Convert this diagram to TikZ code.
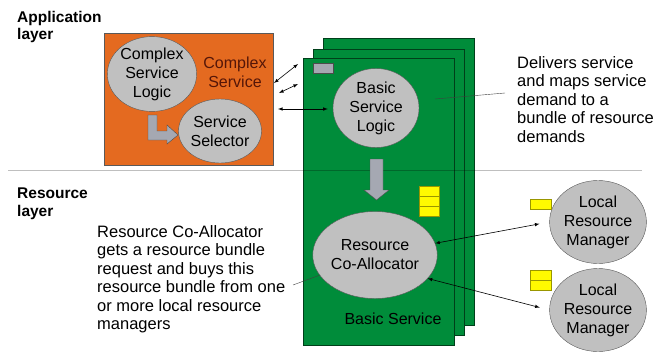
\documentclass[tikz,border=0pt]{standalone}
\usepackage{fontspec}
\setmainfont{Liberation Sans}
\usepackage{tikz}
\usetikzlibrary{arrows}
\usetikzlibrary{shapes.geometric}

\definecolor{svcorange}{RGB}{228,106,32}
\definecolor{svcgreen}{RGB}{0,140,58}
\definecolor{svcbrown}{RGB}{85,22,8}
\definecolor{ellgray}{RGB}{192,192,192}
\definecolor{boxgray}{RGB}{165,168,178}
\definecolor{resyellow}{RGB}{255,250,0}

\begin{document}
\begin{tikzpicture}[x=1pt, y=-1pt, every node/.style={font=\fontsize{16}{19}\selectfont, inner sep=0pt, align=center},
		logic/.style={ellipse, draw=gray!70!black, fill=ellgray},
		layerlabel/.style={anchor=north west, align=left, font=\fontsize{15.5}{17.5}\selectfont\bfseries},
		note/.style={anchor=north west, align=left, font=\fontsize{16.5}{18.5}\selectfont},
		servicecard/.style={draw=black!55!svcgreen, fill=svcgreen},
		resbox/.style={draw=black!40!resyellow, fill=resyellow},
		link/.style={black, latex-latex, semithick}]
	\useasboundingbox (0,0) rectangle (663,351);

	% layer labels
	\node [layerlabel] (applabel) at (17,11) {Application\\layer};
	\node [layerlabel] (reslabel) at (17,188) {Resource\\layer};

	% complex service
	\draw [fill=svcorange, draw=gray!70!black] (104,33) rectangle (273,165);
	\node [logic, minimum width=89pt, minimum height=68pt] (csl) at (152,74) {Complex\\Service\\Logic};
	\node [svcbrown] (cslabel) at (235,72) {Complex\\Service};
	\node [logic, minimum width=76pt, minimum height=64pt] (sel) at (220,131) {Service\\Selector};
	\draw [fill=boxgray, draw=gray!60!black] (148,115) -- (157,115) -- (157,131) -- (167,131) -- (167,125) -- (178,135) -- (167,144) -- (167,140) -- (148,140) -- cycle;

	% basic service cards
	\draw [servicecard] (323,38) rectangle (474,325);
	\draw [servicecard] (313,49) rectangle (464,335);
	\draw [servicecard] (303,58) rectangle (454,345);
	\draw [black, opacity=0.25, thick] (8,170) -- (642,170);
	\draw [fill=boxgray, draw=gray!60!black] (313,63) rectangle (333,73);
	\node [logic, minimum width=86pt, minimum height=79pt] (bsl) at (376,108) {Basic\\Service\\Logic};
	\draw [fill=boxgray, draw=gray!60!black] (370,159) -- (383,159) -- (383,190) -- (389,190) -- (376.5,200) -- (364,190) -- (370,190) -- cycle;
	\foreach \y in {186,196,206}
		\draw [resbox] (419,\y) rectangle (439,\y+9.7);
	\node [logic, minimum width=102pt, minimum height=87pt] (rca) at (375,255) {Resource\\Co-Allocator};
	\node (bslabel) at (393,319) {Basic Service};

	% local resource managers
	\node [logic, minimum width=85pt, minimum height=83pt] (lrm1) at (598,222) {Local\\Resource\\Manager};
	\node [logic, minimum width=85pt, minimum height=83pt] (lrm2) at (598,310) {Local\\Resource\\Manager};
	\draw [resbox] (530,199) rectangle (551,209);
	\draw [resbox] (530,270) rectangle (551,280);
	\draw [resbox] (530,280) rectangle (551,290);

	% links
	\coordinate (cs1) at (274,83);
	\coordinate (bs1) at (298,64);
	\coordinate (cs2) at (279,93);
	\coordinate (bs2) at (298,84);
	\coordinate (cs3) at (278,109);
	\draw [link] (cs1) -- (bs1);
	\draw [link] (cs2) -- (bs2);
	\draw [link, shorten >=5pt] (cs3) -- (bsl.west |- cs3);
	\draw [link, shorten >=10pt] (rca.11) -- (lrm1.west);
	\draw [link, shorten >=10pt] (rca.-24) -- (lrm2.west);

	% notes
	\node [note] (bslnote) at (517,56) {Delivers service\\and maps service\\demand to a\\bundle of resource\\demands};
	\coordinate (bslpin) at (435,99);
	\coordinate (bslend) at (505,93);
	\draw [darkgray, thin] (bslpin) -- (bslend);
	\node [note] (rcanote) at (97,225) {Resource Co-Allocator\\gets a resource bundle\\request and buys this\\resource bundle from one\\or more local resource\\managers};
	\coordinate (rcaend) at (293,285);
	\draw [darkgray, thin] (rcaend) -- (rca.200);
\end{tikzpicture}
\end{document}
